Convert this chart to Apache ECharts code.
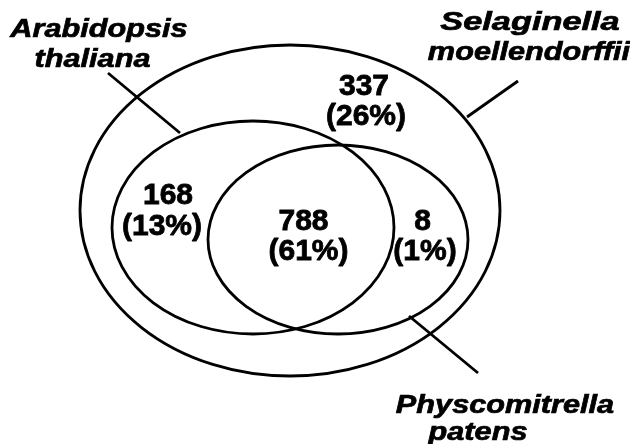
<!DOCTYPE html>
<html>
<head>
<meta charset="utf-8">
<script src="https://cdn.jsdelivr.net/npm/echarts@6/dist/echarts.min.js"></script>
<style>
html,body{margin:0;padding:0;background:#fff;}
#chart{width:630px;height:444px;}
</style>
</head>
<body>
<div id="chart"></div>
<script>
// ---- data ----
const setNames = [
  ['Arabidopsis', 'thaliana'],
  ['Selaginella', 'moellendorffii'],
  ['Physcomitrella', 'patens']
];
const regionNames = ['Arabidopsis only', 'Arabidopsis & Physcomitrella', 'Physcomitrella only', 'Selaginella only'];
const regionCounts = [168, 788, 8, 337];
const regionPercents = [13, 61, 1, 26];

// ---- layout (plot units: 630 x 444 space) ----
const ellipseLayout = [
  {cx: 253, cy: 227.5, rx: 141, ry: 106.5},
  {cx: 290, cy: 210.5, rx: 210, ry: 165.5},
  {cx: 338, cy: 239.5, rx: 130, ry: 94.5}
];
const setLabelLayout = [
  {lines: [[99, 30], [92.5, 60]], scale: [1.18, 1.18], leader: [[108, 73], [180, 133]]},
  {lines: [[530, 22.5], [529, 52.5]], scale: [1.32, 1.18], leader: [[518, 81], [467, 117]]},
  {lines: [[505, 405.5], [478, 432.5]], scale: [1.18, 1.18], leader: [[409, 316], [478, 373]]}
];
const regionLabelLayout = [
  [[168, 196], [162, 227]],
  [[303.5, 221.5], [308.5, 251.5]],
  [[422.5, 221.5], [425, 251.5]],
  [[364, 87], [366, 117]]
];
const STROKE = '#000';
const LW = 2.8;
const FONT = '"Liberation Sans", Arial, Helvetica, sans-serif';

const chart = echarts.init(document.getElementById('chart'), null, {renderer: 'canvas'});

function ellipseRender(params, api) {
  const L = ellipseLayout[params.dataIndex];
  const c = api.coord([L.cx, L.cy]);
  const s = api.size([L.rx, L.ry]);
  const rx = s[0], ry = s[1];
  const d = 'M' + (c[0] - rx) + ' ' + c[1] +
    ' A' + rx + ' ' + ry + ' 0 1 0 ' + (c[0] + rx) + ' ' + c[1] +
    ' A' + rx + ' ' + ry + ' 0 1 0 ' + (c[0] - rx) + ' ' + c[1] + ' Z';
  return {
    type: 'path',
    shape: {pathData: d},
    style: {fill: 'none', stroke: STROKE, lineWidth: LW}
  };
}

function setLabelRender(params, api) {
  const i = params.dataIndex;
  const L = setLabelLayout[i];
  const p1 = api.coord(L.leader[0]);
  const p2 = api.coord(L.leader[1]);
  const children = [{
    type: 'line',
    shape: {x1: p1[0], y1: p1[1], x2: p2[0], y2: p2[1]},
    style: {stroke: STROKE, lineWidth: LW}
  }];
  setNames[i].forEach(function (txt, k) {
    const p = api.coord(L.lines[k]);
    children.push({
      type: 'text',
      x: p[0], y: p[1],
      scaleX: L.scale[k],
      style: {
        text: txt, x: 0, y: 0,
        fill: '#000', stroke: '#000', lineWidth: 0.7,
        fontFamily: FONT,
        fontWeight: 'bold', fontStyle: 'italic', fontSize: 26,
        align: 'center', verticalAlign: 'middle'
      }
    });
  });
  return {type: 'group', children: children};
}

function regionRender(params, api) {
  const i = params.dataIndex;
  const L = regionLabelLayout[i];
  const lines = [String(regionCounts[i]), '(' + regionPercents[i] + '%)'];
  return {
    type: 'group',
    children: lines.map(function (txt, k) {
      const p = api.coord(L[k]);
      return {
        type: 'text',
        x: p[0], y: p[1],
        style: {
          text: txt, x: 0, y: 0,
          fill: '#000', stroke: '#000', lineWidth: 0.8,
          fontFamily: FONT,
          fontWeight: 'bold', fontSize: 30,
          align: 'center', verticalAlign: 'middle'
        }
      };
    })
  };
}

chart.setOption({
  animation: false,
  backgroundColor: '#fff',
  grid: {left: 0, right: 0, top: 0, bottom: 0},
  xAxis: {type: 'value', min: 0, max: 630, show: false},
  yAxis: {type: 'value', min: 0, max: 444, inverse: true, show: false},
  series: [
    {
      type: 'custom', name: 'sets', clip: false,
      data: setNames.map(function (n, i) { return [i, 0]; }),
      renderItem: ellipseRender
    },
    {
      type: 'custom', name: 'set labels', clip: false,
      data: setNames.map(function (n, i) { return [i, 0]; }),
      renderItem: setLabelRender
    },
    {
      type: 'custom', name: 'regions', clip: false,
      data: regionCounts.map(function (v, i) { return {name: regionNames[i], value: [i, v]}; }),
      renderItem: regionRender
    }
  ]
});
</script>
</body>
</html>
